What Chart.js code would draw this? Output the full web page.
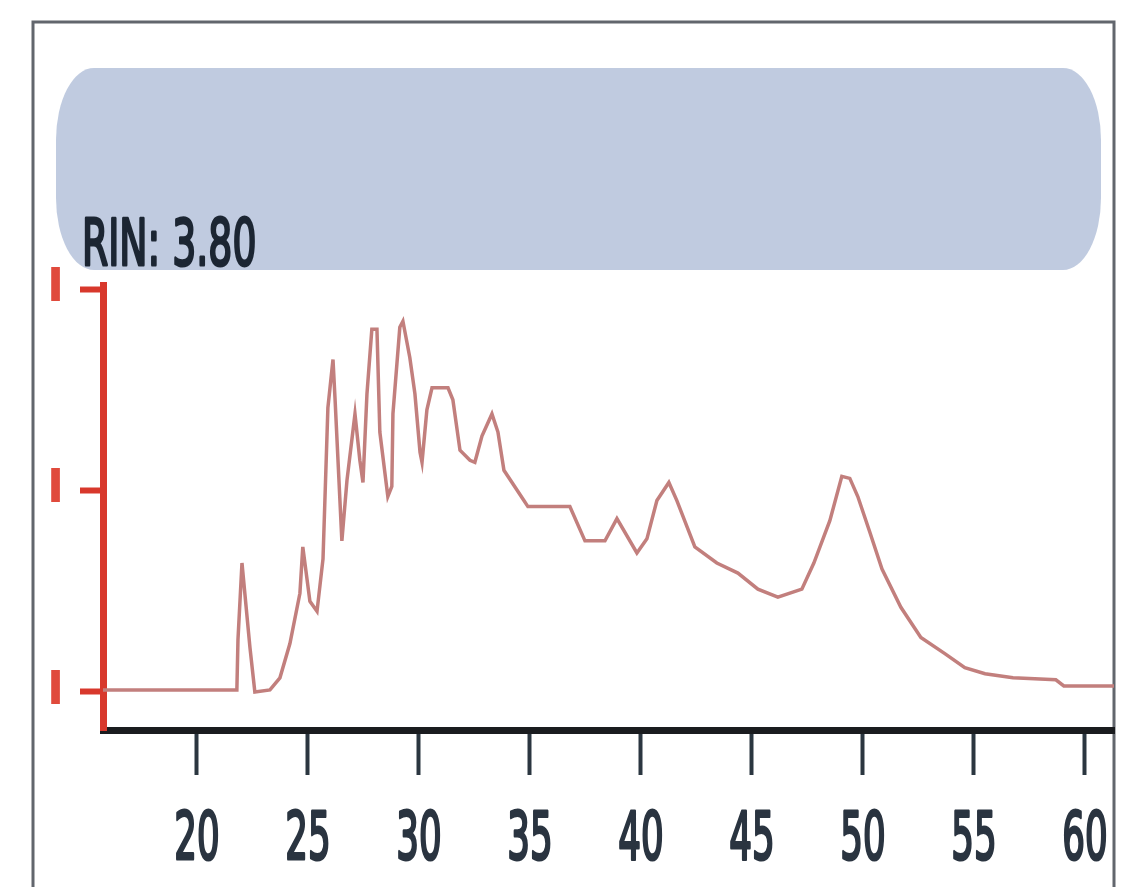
<!DOCTYPE html>
<html>
<head>
<meta charset="utf-8">
<script src="https://cdn.jsdelivr.net/npm/chart.js@4/dist/chart.umd.min.js"></script>
<style>
  html, body { margin: 0; padding: 0; background: #ffffff; }
  #wrap { width: 1125px; height: 887px; }
</style>
</head>
<body>
<div id="wrap"><canvas id="trace"></canvas></div>
<script>
"use strict";

// electropherogram trace (time in s, fluorescence)
let TIMES = [15.0, 21.80, 21.85, 22.03, 22.39, 22.61, 23.29, 23.74, 24.19, 24.64, 24.77, 25.09, 25.41, 25.68,
    25.90, 26.13, 26.22, 26.53, 26.76, 27.12, 27.34, 27.48, 27.66, 27.88, 28.11, 28.24, 28.60, 28.78,
    28.83, 29.14, 29.28, 29.59, 29.82, 30.05, 30.14, 30.36, 30.59, 31.31, 31.53, 31.85, 32.30, 32.52,
    32.84, 33.29, 33.56, 33.83, 34.73, 34.91, 36.80, 37.48, 38.38, 38.92, 39.82, 40.27, 40.72, 41.26,
    41.62, 42.43, 43.42, 44.37, 45.27, 46.17, 47.25, 47.79, 48.51, 49.05, 49.41, 49.77, 50.32, 50.86,
    51.71, 52.61, 53.69, 54.59, 55.50, 56.76, 58.69, 59.05, 61.4];
let FLUOR = [0.01, 0.01, 0.26, 0.64, 0.22, 0.00, 0.01, 0.07, 0.24, 0.49, 0.72, 0.45, 0.40, 0.66,
    1.41, 1.65, 1.46, 0.75, 1.05, 1.38, 1.15, 1.04, 1.48, 1.80, 1.80, 1.29, 0.97, 1.02,
    1.38, 1.81, 1.84, 1.66, 1.48, 1.19, 1.14, 1.40, 1.51, 1.51, 1.45, 1.20, 1.15, 1.14,
    1.27, 1.38, 1.29, 1.10, 0.95, 0.92, 0.92, 0.75, 0.75, 0.86, 0.69, 0.76, 0.95, 1.04,
    0.95, 0.72, 0.64, 0.59, 0.51, 0.47, 0.51, 0.64, 0.85, 1.07, 1.06, 0.97, 0.79, 0.61,
    0.42, 0.27, 0.19, 0.12, 0.09, 0.07, 0.06, 0.03, 0.03];
let X_TICKS = [20, 25, 30, 35, 40, 45, 50, 55, 60];
let Y_TICKS = [0, 1, 2];
let RIN_TEXT = "RIN: 3.80";

let points = TIMES.map(function(t, i) { return { x: t, y: FLUOR[i] }; });

// frame, the blue RIN box, and the squeezed labels
let decor = {
    id: "decor",
    beforeDraw: function(chart) {
        let ctx = chart.ctx;
        ctx.save();
        ctx.fillStyle = "#ffffff";
        ctx.fillRect(0, 0, chart.width, chart.height);

        ctx.strokeStyle = "#62666d";
        ctx.lineWidth = 3;
        ctx.beginPath();
        ctx.moveTo(33, 887);
        ctx.lineTo(33, 22);
        ctx.lineTo(1114, 22);
        ctx.lineTo(1114, 887);
        ctx.stroke();

        // rounded box
        let l = 56, r = 1101, t = 68, b = 270, rx = 38, ry = 72;
        ctx.fillStyle = "#c0cbe0";
        ctx.beginPath();
        ctx.moveTo(l + rx, t);
        ctx.lineTo(r - rx, t);
        ctx.ellipse(r - rx, t + ry, rx, ry, 0, -Math.PI / 2, 0);
        ctx.lineTo(r, b - ry);
        ctx.ellipse(r - rx, b - ry, rx, ry, 0, 0, Math.PI / 2);
        ctx.lineTo(l + rx, b);
        ctx.ellipse(l + rx, b - ry, rx, ry, 0, Math.PI / 2, Math.PI);
        ctx.lineTo(l, t + ry);
        ctx.ellipse(l + rx, t + ry, rx, ry, 0, Math.PI, Math.PI * 1.5);
        ctx.closePath();
        ctx.fill();
        ctx.restore();
    },
    afterDraw: function(chart) {
        let ctx = chart.ctx;
        let xs = chart.scales.x;
        ctx.save();
        ctx.textBaseline = "alphabetic";
        ctx.lineJoin = "round";

        // RIN label
        ctx.save();
        ctx.translate(82, 265);
        ctx.scale(0.59, 1);
        ctx.font = "64px 'DejaVu Sans'";
        ctx.fillStyle = "#1c2633";
        ctx.strokeStyle = "#1c2633";
        ctx.lineWidth = 3;
        ctx.textAlign = "left";
        ctx.fillText(RIN_TEXT, 0, 0);
        ctx.strokeText(RIN_TEXT, 0, 0);
        ctx.restore();

        // x tick labels
        X_TICKS.forEach(function(v) {
            let px = xs.getPixelForValue(v);
            ctx.save();
            ctx.translate(px, 859);
            ctx.scale(0.54, 1);
            ctx.font = "66px 'DejaVu Sans'";
            ctx.fillStyle = "#2a3440";
            ctx.strokeStyle = "#2a3440";
            ctx.lineWidth = 3;
            ctx.textAlign = "center";
            ctx.fillText(String(v), 0, 0);
            ctx.strokeText(String(v), 0, 0);
            ctx.restore();
        });
        ctx.restore();
    }
};

let ctx = document.getElementById("trace").getContext("2d");
let chart = new Chart(ctx, {
    type: "line",
    data: {
        datasets: [{
            data: points,
            borderColor: "#c27f7d",
            borderWidth: 3.5,
            pointRadius: 0,
            tension: 0,
            fill: false
        }]
    },
    options: {
        responsive: true,
        maintainAspectRatio: false,
        animation: false,
        layout: { padding: { left: 0, right: 11, top: 285, bottom: 0 } },
        plugins: {
            legend: { display: false },
            tooltip: { enabled: false }
        },
        scales: {
            x: {
                type: "linear",
                min: 15.77,
                max: 61.31,
                afterBuildTicks: function(scale) {
                    scale.ticks = X_TICKS.map(function(v) { return { value: v }; });
                },
                afterFit: function(scale) { scale.height = 157; },
                border: { display: true, color: "#1a1c1f", width: 7 },
                grid: {
                    drawOnChartArea: false,
                    drawTicks: true,
                    tickLength: 45,
                    tickColor: "#2b3640",
                    tickWidth: 4
                },
                ticks: { display: false }
            },
            y: {
                type: "linear",
                min: -0.189,
                max: 2.02,
                afterBuildTicks: function(scale) {
                    scale.ticks = Y_TICKS.map(function(v) { return { value: v }; });
                },
                afterFit: function(scale) { scale.width = 103; },
                border: { display: true, color: "#d8382c", width: 7 },
                grid: {
                    drawOnChartArea: false,
                    drawTicks: true,
                    tickLength: 23,
                    tickColor: "#d8382c",
                    tickWidth: 6
                },
                ticks: {
                    padding: 16,
                    color: "#e04a3c",
                    font: { family: "DejaVu Sans", weight: "bold", size: 46 },
                    callback: function() { return "I"; }
                }
            }
        }
    },
    plugins: [decor]
});
</script>
</body>
</html>
